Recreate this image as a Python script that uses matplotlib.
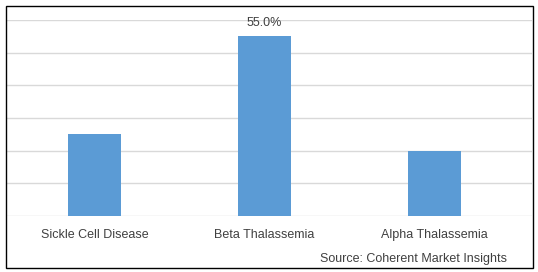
import numpy as np
import matplotlib.pyplot as plt
from matplotlib.patches import Rectangle

categories = ['Sickle Cell Disease', 'Beta Thalassemia', 'Alpha Thalassemia']
shares = [25.0, 55.0, 20.0]
labelled = [False, True, False]

W, H = 538, 272
fig = plt.figure(figsize=(W / 100, H / 100), dpi=100)
plt.rcParams['font.family'] = ['Liberation Sans', 'DejaVu Sans']

# plot area: baseline at y=216px, 60% gridline at y=20px
ax = fig.add_axes([6 / W, 1 - 216 / H, (532 - 6) / W, (216 - 20) / H])
x = np.arange(len(categories))
ax.bar(x, shares, width=0.31, color='#5B9BD5', zorder=2)
ax.set_xlim(-0.52, 2.575)
ax.set_ylim(0, 60)
ax.set_yticks(np.arange(0, 61, 10))
ax.yaxis.grid(True, color='#D9D9D9', linewidth=1)
ax.set_axisbelow(True)
ax.tick_params(left=False, bottom=False, labelleft=False)
ax.set_xticks(x)
ax.set_xticklabels(categories, fontsize=9, color='#404040')
ax.tick_params(axis='x', pad=6)
for s in ax.spines.values():
    s.set_visible(False)
ax.set_facecolor('none')

for xi, v, show in zip(x, shares, labelled):
    if show:
        ax.annotate('{0:.1f}%'.format(v), (xi, v), xytext=(0, 5),
                    textcoords='offset points', ha='center', va='bottom',
                    fontsize=9, color='#404040')

fig.text(507 / W, 1 - 259 / H, 'Source: Coherent Market Insights',
         ha='right', va='center', fontsize=9, color='#404040')

fig.patches.append(Rectangle((5.5 / W, 1 - 267.5 / H), (533 - 5.5) / W, (267.5 - 6) / H,
                             transform=fig.transFigure, fill=False,
                             edgecolor='black', linewidth=1))

fig.savefig('out.png', dpi=100)
